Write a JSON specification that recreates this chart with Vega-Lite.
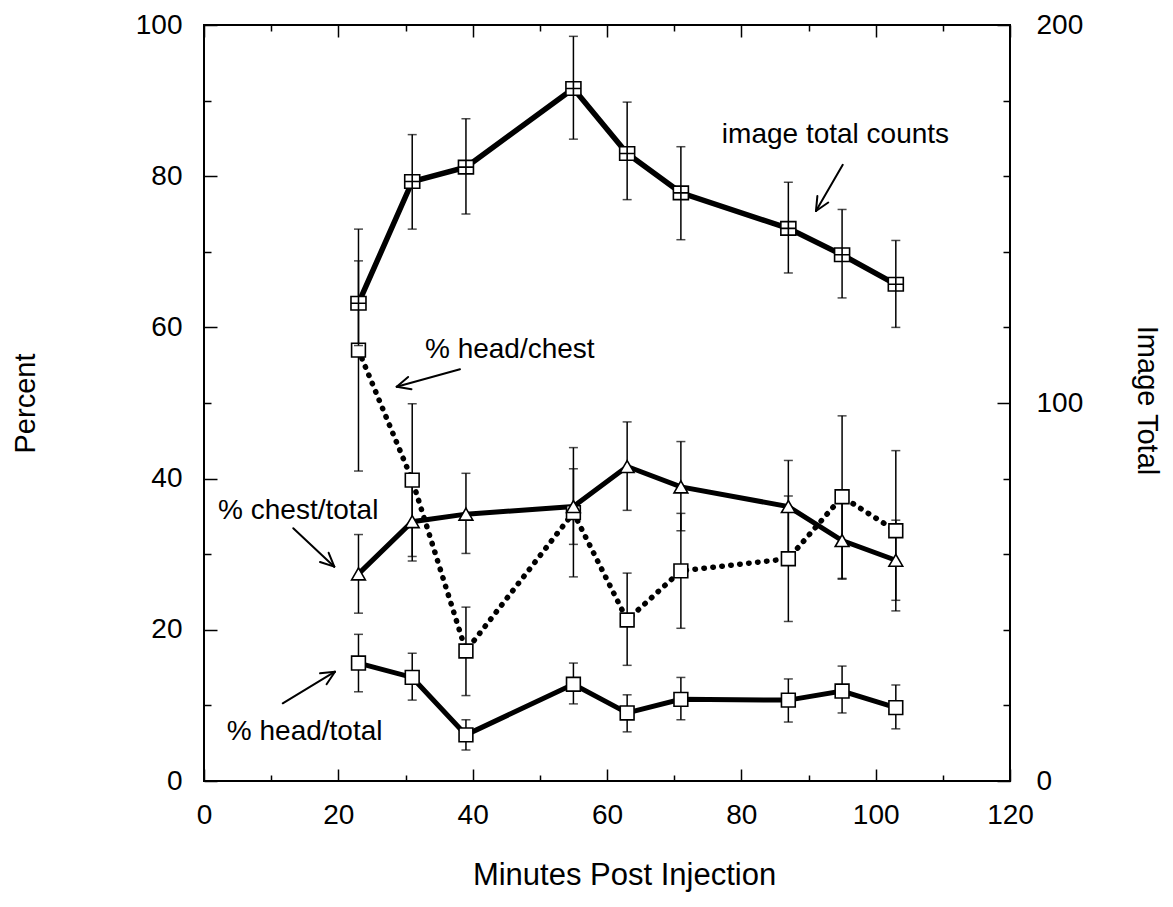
{
  "$schema": "https://vega.github.io/schema/vega-lite/v6.json",
  "width": 806,
  "height": 756,
  "autosize": {"type": "none"},
  "padding": {"left": 204, "top": 25, "right": 163, "bottom": 126},
  "background": "white",
  "config": {
    "view": {"stroke": "black", "strokeWidth": 2},
    "font": "Liberation Sans",
    "axis": {
      "grid": false,
      "domain": false,
      "labelFlush": false,
      "tickColor": "black",
      "tickWidth": 1.5,
      "labelColor": "black",
      "labelFont": "Liberation Sans",
      "labelFontSize": 28,
      "titleFont": "Liberation Sans",
      "titleFontSize": 29,
      "titleFontWeight": "normal",
      "titleColor": "black"
    }
  },
  "datasets": {
    "series": [
      {"series": "head/chest", "x": 23, "y": 57.0, "lo": 41.0, "hi": 73.0},
      {"series": "head/chest", "x": 31, "y": 39.8, "lo": 29.7, "hi": 49.9},
      {"series": "head/chest", "x": 39, "y": 17.2, "lo": 11.3, "hi": 23.0},
      {"series": "head/chest", "x": 55, "y": 35.5, "lo": 27.0, "hi": 44.1},
      {"series": "head/chest", "x": 63, "y": 21.3, "lo": 15.3, "hi": 27.5},
      {"series": "head/chest", "x": 71, "y": 27.8, "lo": 20.2, "hi": 35.4},
      {"series": "head/chest", "x": 87, "y": 29.4, "lo": 21.1, "hi": 37.7},
      {"series": "head/chest", "x": 95, "y": 37.6, "lo": 26.7, "hi": 48.3},
      {"series": "head/chest", "x": 103, "y": 33.1, "lo": 22.5, "hi": 43.7},
      {"series": "chest/total", "x": 23, "y": 27.4, "lo": 22.2, "hi": 32.6},
      {"series": "chest/total", "x": 31, "y": 34.3, "lo": 29.1, "hi": 39.5},
      {"series": "chest/total", "x": 39, "y": 35.3, "lo": 30.1, "hi": 40.7},
      {"series": "chest/total", "x": 55, "y": 36.3, "lo": 31.3, "hi": 41.3},
      {"series": "chest/total", "x": 63, "y": 41.6, "lo": 35.8, "hi": 47.5},
      {"series": "chest/total", "x": 71, "y": 38.9, "lo": 33.1, "hi": 44.9},
      {"series": "chest/total", "x": 87, "y": 36.3, "lo": 30.2, "hi": 42.4},
      {"series": "chest/total", "x": 95, "y": 31.8, "lo": 26.8, "hi": 36.8},
      {"series": "chest/total", "x": 103, "y": 29.2, "lo": 23.9, "hi": 34.5},
      {"series": "head/total", "x": 23, "y": 15.6, "lo": 11.8, "hi": 19.4},
      {"series": "head/total", "x": 31, "y": 13.7, "lo": 10.7, "hi": 16.9},
      {"series": "head/total", "x": 39, "y": 6.1, "lo": 4.1, "hi": 8.1},
      {"series": "head/total", "x": 55, "y": 12.8, "lo": 10.2, "hi": 15.6},
      {"series": "head/total", "x": 63, "y": 9.0, "lo": 6.5, "hi": 11.4},
      {"series": "head/total", "x": 71, "y": 10.8, "lo": 8.1, "hi": 13.7},
      {"series": "head/total", "x": 87, "y": 10.7, "lo": 7.8, "hi": 13.5},
      {"series": "head/total", "x": 95, "y": 11.9, "lo": 9.0, "hi": 15.2},
      {"series": "head/total", "x": 103, "y": 9.7, "lo": 6.9, "hi": 12.7}
    ],
    "counts": [
      {"x": 23, "count": 126.4, "lo": 115.2, "hi": 137.6},
      {"x": 31, "count": 158.6, "lo": 146.0, "hi": 171.0},
      {"x": 39, "count": 162.4, "lo": 150.0, "hi": 175.2},
      {"x": 55, "count": 183.2, "lo": 169.8, "hi": 197.0},
      {"x": 63, "count": 166.0, "lo": 153.8, "hi": 179.6},
      {"x": 71, "count": 155.6, "lo": 143.2, "hi": 167.8},
      {"x": 87, "count": 146.2, "lo": 134.4, "hi": 158.4},
      {"x": 95, "count": 139.2, "lo": 127.8, "hi": 151.2},
      {"x": 103, "count": 131.4, "lo": 120.0, "hi": 143.0}
    ],
    "labels": [
      {"x": 77.1, "y": 84.4, "text": "image total counts"},
      {"x": 32.9, "y": 56.0, "text": "% head/chest"},
      {"x": 2.1, "y": 34.6, "text": "% chest/total"},
      {"x": 3.4, "y": 5.4, "text": "% head/total"}
    ],
    "arrows": [
      {"x": 95.1, "y": 81.5, "x2": 91.11, "y2": 75.4},
      {"x": 92.94, "y": 76.52, "x2": 91.11, "y2": 75.4},
      {"x": 91.32, "y": 77.37, "x2": 91.11, "y2": 75.4},
      {"x": 38.11, "y": 54.46, "x2": 28.69, "y2": 52.16},
      {"x": 30.89, "y": 51.83, "x2": 28.69, "y2": 52.16},
      {"x": 30.39, "y": 53.44, "x2": 28.69, "y2": 52.16},
      {"x": 13.29, "y": 33.43, "x2": 19.4, "y2": 28.35},
      {"x": 18.56, "y": 30.19, "x2": 19.4, "y2": 28.35},
      {"x": 17.27, "y": 28.97, "x2": 19.4, "y2": 28.35},
      {"x": 11.72, "y": 10.28, "x2": 19.5, "y2": 14.46},
      {"x": 17.28, "y": 14.25, "x2": 19.5, "y2": 14.46},
      {"x": 18.25, "y": 12.8, "x2": 19.5, "y2": 14.46}
    ]
  },
  "layer": [
    {
      "layer": [
        {
          "data": {"name": "series"},
          "mark": {"type": "rule", "strokeWidth": 1.5, "color": "black"},
          "encoding": {
            "x": {
              "field": "x", "type": "quantitative",
              "scale": {"domain": [0, 120], "nice": false},
              "axis": {
                "orient": "bottom",
                "values": [0,5,10,15,20,25,30,35,40,45,50,55,60,65,70,75,80,85,90,95,100,105,110,115,120],
                "labelExpr": "datum.value % 20 === 0 ? datum.label : ''",
                "tickSize": {"condition": {"test": "datum.value % 20 === 0", "value": -12}, "value": -6},
                "labelPadding": 32,
                "labelFlush": false,
                "title": "Minutes Post Injection",
                "titleFontSize": 31,
                "titleX": 420,
                "titleY": 103,
                "titleBaseline": "alphabetic"
              }
            },
            "y": {
              "field": "lo", "type": "quantitative",
              "scale": {"domain": [0, 100], "nice": false},
              "axis": {
                "orient": "left",
                "values": [0,5,10,15,20,25,30,35,40,45,50,55,60,65,70,75,80,85,90,95,100],
                "labelExpr": "datum.value % 20 === 0 ? datum.label : ''",
                "tickSize": {"condition": {"test": "datum.value % 20 === 0", "value": -13}, "value": -7},
                "labelPadding": 35,
                "labelFlush": false,
                "title": "Percent",
                "titleAngle": -90,
                "titleX": -179,
                "titleY": 378,
                "titleAlign": "center",
                "titleBaseline": "middle"
              }
            },
            "y2": {"field": "hi"}
          }
        },
        {
          "data": {"name": "series"},
          "mark": {"type": "tick", "orient": "horizontal", "size": 9, "thickness": 1.5, "color": "black"},
          "encoding": {
            "x": {"field": "x", "type": "quantitative", "title": "Minutes Post Injection"},
            "y": {"field": "lo", "type": "quantitative", "title": "Percent"}
          }
        },
        {
          "data": {"name": "series"},
          "mark": {"type": "tick", "orient": "horizontal", "size": 9, "thickness": 1.5, "color": "black"},
          "encoding": {
            "x": {"field": "x", "type": "quantitative", "title": "Minutes Post Injection"},
            "y": {"field": "hi", "type": "quantitative", "title": "Percent"}
          }
        },
        {
          "data": {"name": "series"},
          "transform": [{"filter": "datum.series !== 'head/chest'"}],
          "mark": {"type": "line", "strokeWidth": 5, "color": "black"},
          "encoding": {
            "x": {"field": "x", "type": "quantitative", "title": "Minutes Post Injection"},
            "y": {"field": "y", "type": "quantitative", "title": "Percent"},
            "detail": {"field": "series", "type": "nominal"}
          }
        },
        {
          "data": {"name": "series"},
          "transform": [{"filter": "datum.series === 'head/chest'"}],
          "mark": {"type": "line", "strokeWidth": 5.5, "color": "black", "strokeDash": [0.5, 8.5], "strokeCap": "round"},
          "encoding": {
            "x": {"field": "x", "type": "quantitative", "title": "Minutes Post Injection"},
            "y": {"field": "y", "type": "quantitative", "title": "Percent"}
          }
        },
        {
          "data": {"name": "series"},
          "mark": {"type": "point", "filled": true, "fill": "white", "stroke": "black", "strokeWidth": 1.6, "opacity": 1, "size": 190},
          "encoding": {
            "x": {"field": "x", "type": "quantitative", "title": "Minutes Post Injection"},
            "y": {"field": "y", "type": "quantitative", "title": "Percent"},
            "shape": {
              "field": "series", "type": "nominal",
              "scale": {"domain": ["head/chest", "chest/total", "head/total"], "range": ["square", "triangle-up", "square"]},
              "legend": null
            }
          }
        },
        {
          "data": {"name": "labels"},
          "mark": {"type": "text", "align": "left", "baseline": "alphabetic", "fontSize": 28, "font": "Liberation Sans", "color": "black"},
          "encoding": {
            "x": {"field": "x", "type": "quantitative", "title": "Minutes Post Injection"},
            "y": {"field": "y", "type": "quantitative", "title": "Percent"},
            "text": {"field": "text", "type": "nominal"}
          }
        },
        {
          "data": {"name": "arrows"},
          "mark": {"type": "rule", "strokeWidth": 2, "color": "black", "strokeCap": "round"},
          "encoding": {
            "x": {"field": "x", "type": "quantitative", "title": "Minutes Post Injection"},
            "y": {"field": "y", "type": "quantitative", "title": "Percent"},
            "x2": {"field": "x2"},
            "y2": {"field": "y2"}
          }
        }
      ]
    },
    {
      "layer": [
        {
          "data": {"name": "counts"},
          "mark": {"type": "rule", "strokeWidth": 1.5, "color": "black"},
          "encoding": {
            "x": {
              "field": "x", "type": "quantitative",
              "scale": {"domain": [0, 120], "nice": false},
              "axis": {
                "orient": "top",
                "values": [0,5,10,15,20,25,30,35,40,45,50,55,60,65,70,75,80,85,90,95,100,105,110,115,120],
                "labels": false,
                "tickSize": {"condition": {"test": "datum.value % 20 === 0", "value": -12}, "value": -6},
                "title": null
              }
            },
            "y": {
              "field": "lo", "type": "quantitative",
              "scale": {"domain": [0, 200], "nice": false},
              "axis": {
                "orient": "right",
                "values": [0,10,20,30,40,50,60,70,80,90,100,110,120,130,140,150,160,170,180,190,200],
                "labelExpr": "datum.value % 50 === 0 ? datum.label : ''",
                "tickSize": {"condition": {"test": "datum.value % 50 === 0", "value": -13}, "value": -7},
                "labelPadding": 39,
                "labelFlush": false,
                "title": "Image Total",
                "titleAngle": 90,
                "titleX": 136,
                "titleY": 375,
                "titleAlign": "center",
                "titleBaseline": "middle"
              }
            },
            "y2": {"field": "hi"}
          }
        },
        {
          "data": {"name": "counts"},
          "mark": {"type": "tick", "orient": "horizontal", "size": 9, "thickness": 1.5, "color": "black"},
          "encoding": {
            "x": {"field": "x", "type": "quantitative"},
            "y": {"field": "lo", "type": "quantitative", "title": "Image Total"}
          }
        },
        {
          "data": {"name": "counts"},
          "mark": {"type": "tick", "orient": "horizontal", "size": 9, "thickness": 1.5, "color": "black"},
          "encoding": {
            "x": {"field": "x", "type": "quantitative"},
            "y": {"field": "hi", "type": "quantitative", "title": "Image Total"}
          }
        },
        {
          "data": {"name": "counts"},
          "mark": {"type": "line", "strokeWidth": 5.5, "color": "black"},
          "encoding": {
            "x": {"field": "x", "type": "quantitative"},
            "y": {"field": "count", "type": "quantitative", "title": "Image Total"}
          }
        },
        {
          "data": {"name": "counts"},
          "mark": {"type": "point", "filled": true, "fill": "white", "stroke": "black", "strokeWidth": 1.6, "opacity": 1, "size": 225, "shape": "M-1,-0.9H1V0.9H-1Z M-1,0H1 M0,-0.9V0.9"},
          "encoding": {
            "x": {"field": "x", "type": "quantitative"},
            "y": {"field": "count", "type": "quantitative", "title": "Image Total"}
          }
        }
      ]
    }
  ],
  "resolve": {"scale": {"y": "independent"}, "axis": {"x": "independent", "y": "independent"}}
}
